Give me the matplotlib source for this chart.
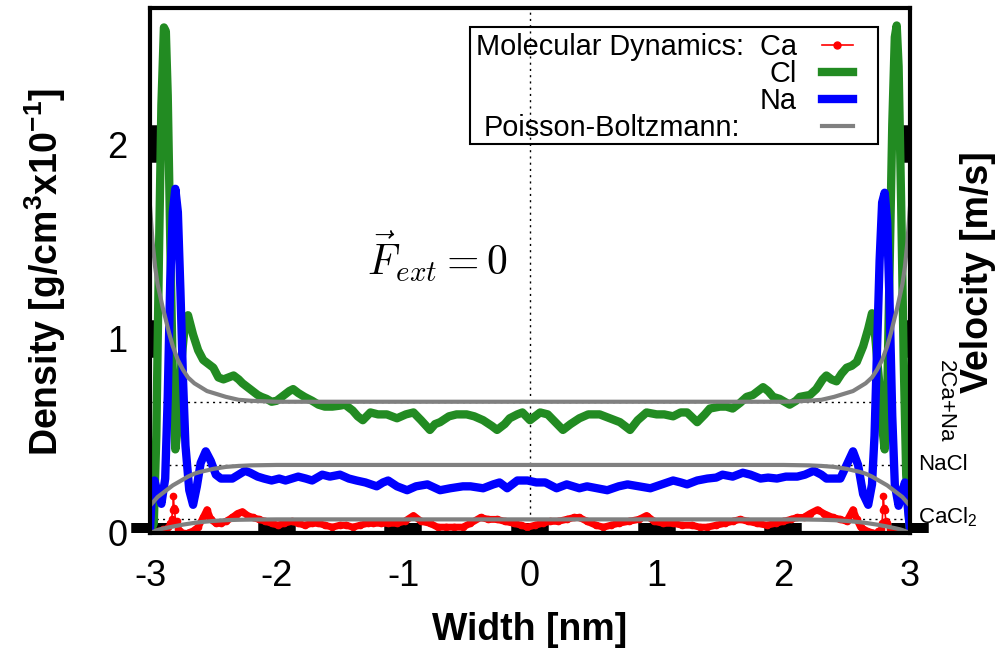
import numpy as np
import matplotlib
matplotlib.use("Agg")
import matplotlib.pyplot as plt
from matplotlib.lines import Line2D
from matplotlib.patches import Rectangle
from matplotlib.transforms import blended_transform_factory

plt.rcParams['font.family'] = ['Liberation Sans', 'DejaVu Sans']
plt.rcParams['mathtext.fontset'] = 'custom'
plt.rcParams['mathtext.rm'] = 'Liberation Sans'
plt.rcParams['mathtext.bf'] = 'Liberation Sans:bold'
plt.rcParams['mathtext.it'] = 'Liberation Sans:italic'
plt.rcParams['axes.unicode_minus'] = False

# ---------------- data ----------------
cl_x = [-3.00, -2.97, -2.95, -2.93, -2.91, -2.89, -2.875, -2.86, -2.84, -2.82, -2.80, -2.78, -2.75, -2.72, -2.70,
        -2.66, -2.62, -2.58, -2.54, -2.50, -2.46, -2.42, -2.38, -2.34, -2.30, -2.27, -2.23, -2.19, -2.15, -2.12,
        -2.08, -2.04, -2.00, -1.96, -1.90, -1.87, -1.83, -1.78, -1.72, -1.67, -1.62, -1.56, -1.50, -1.46, -1.40,
        -1.36, -1.32, -1.26, -1.20, -1.13, -1.05, -0.98, -0.92, -0.86, -0.79, -0.75, -0.71, -0.64, -0.58, -0.50,
        -0.44, -0.37, -0.30, -0.26, -0.20, -0.16, -0.10, -0.06, 0.00, 0.04, 0.08, 0.14, 0.20, 0.26, 0.32,
        0.39, 0.46, 0.55, 0.63, 0.71, 0.79, 0.85, 0.92, 1.00, 1.06, 1.13, 1.19, 1.24, 1.32, 1.38,
        1.42, 1.50, 1.55, 1.60, 1.66, 1.71, 1.76, 1.84, 1.88, 1.92, 1.97, 2.05, 2.10, 2.13, 2.21,
        2.26, 2.31, 2.34, 2.38, 2.42, 2.46, 2.50, 2.54, 2.58, 2.63, 2.67, 2.70, 2.72, 2.74, 2.76,
        2.78, 2.80, 2.82, 2.84, 2.86, 2.88, 2.895, 2.91, 2.93, 2.95, 2.97, 3.00]
cl_y = [0.00, 0.05, 0.50, 1.40, 2.20, 2.60, 2.58, 2.25, 1.50, 0.80, 0.43, 0.55, 0.90, 1.10, 1.12,
        1.02, 0.94, 0.89, 0.87, 0.85, 0.80, 0.79, 0.80, 0.81, 0.79, 0.77, 0.75, 0.73, 0.71, 0.70,
        0.69, 0.675, 0.68, 0.70, 0.73, 0.74, 0.72, 0.70, 0.68, 0.66, 0.65, 0.65, 0.655, 0.66, 0.63,
        0.60, 0.58, 0.62, 0.61, 0.61, 0.59, 0.61, 0.62, 0.58, 0.53, 0.56, 0.57, 0.60, 0.61, 0.61,
        0.60, 0.58, 0.55, 0.53, 0.56, 0.59, 0.61, 0.62, 0.58, 0.60, 0.62, 0.61, 0.57, 0.53, 0.56,
        0.59, 0.61, 0.61, 0.59, 0.57, 0.53, 0.58, 0.62, 0.61, 0.61, 0.60, 0.62, 0.62, 0.57, 0.61,
        0.64, 0.65, 0.65, 0.64, 0.67, 0.70, 0.71, 0.75, 0.73, 0.70, 0.69, 0.66, 0.68, 0.70, 0.71,
        0.74, 0.79, 0.81, 0.79, 0.78, 0.82, 0.85, 0.86, 0.88, 0.96, 1.05, 1.13, 1.05, 0.90, 0.75,
        0.55, 0.43, 0.70, 1.40, 2.10, 2.55, 2.61, 2.40, 1.70, 0.90, 0.30, 0.00]

na_x = [-3.00, -2.985, -2.965, -2.94, -2.91, -2.88, -2.86, -2.84, -2.82, -2.80, -2.78, -2.76, -2.74, -2.72, -2.69,
        -2.66, -2.63, -2.60, -2.56, -2.52, -2.48, -2.44, -2.39, -2.35, -2.30, -2.25, -2.21, -2.15, -2.10, -2.04,
        -1.98, -1.93, -1.88, -1.83, -1.77, -1.72, -1.64, -1.58, -1.50, -1.43, -1.37, -1.30, -1.21, -1.16, -1.12,
        -1.05, -0.97, -0.90, -0.81, -0.71, -0.63, -0.53, -0.47, -0.37, -0.29, -0.24, -0.18, -0.10, -0.02, 0.05,
        0.12, 0.21, 0.29, 0.39, 0.45, 0.53, 0.61, 0.70, 0.77, 0.86, 0.95, 1.04, 1.13, 1.19, 1.24,
        1.32, 1.40, 1.47, 1.52, 1.60, 1.68, 1.74, 1.82, 1.88, 1.95, 2.02, 2.11, 2.17, 2.24, 2.30,
        2.34, 2.40, 2.45, 2.50, 2.55, 2.59, 2.63, 2.67, 2.70, 2.72, 2.74, 2.76, 2.78, 2.80, 2.82,
        2.84, 2.86, 2.88, 2.91, 2.935, 2.96, 2.98, 3.00]
na_y = [0.02, 0.20, 0.27, 0.21, 0.15, 0.28, 0.70, 1.30, 1.65, 1.77, 1.65, 1.25, 0.80, 0.45, 0.22,
        0.145, 0.24, 0.36, 0.42, 0.37, 0.30, 0.28, 0.28, 0.28, 0.30, 0.32, 0.31, 0.29, 0.28, 0.27,
        0.28, 0.27, 0.28, 0.29, 0.28, 0.27, 0.30, 0.29, 0.30, 0.28, 0.27, 0.26, 0.24, 0.26, 0.27,
        0.24, 0.22, 0.24, 0.25, 0.22, 0.23, 0.24, 0.24, 0.23, 0.25, 0.26, 0.23, 0.27, 0.27, 0.26,
        0.26, 0.23, 0.25, 0.23, 0.24, 0.23, 0.22, 0.24, 0.25, 0.24, 0.23, 0.25, 0.27, 0.26, 0.25,
        0.27, 0.28, 0.285, 0.30, 0.29, 0.31, 0.30, 0.28, 0.285, 0.28, 0.29, 0.29, 0.30, 0.32, 0.30,
        0.28, 0.28, 0.28, 0.35, 0.42, 0.35, 0.20, 0.145, 0.25, 0.50, 0.95, 1.40, 1.70, 1.75, 1.60,
        1.15, 0.60, 0.25, 0.14, 0.20, 0.26, 0.15, 0.02]

ca_x = [-3.00, -2.98, -2.96, -2.94, -2.92, -2.90, -2.88, -2.86, -2.84, -2.83, -2.82, -2.815, -2.81, -2.805, -2.80,
        -2.79, -2.78, -2.76, -2.73, -2.70, -2.66, -2.62, -2.58, -2.55, -2.52, -2.48, -2.44, -2.40, -2.35, -2.31,
        -2.27, -2.23, -2.19, -2.14, -2.09, -2.04, -1.99, -1.94, -1.88, -1.83, -1.78, -1.72, -1.67, -1.62, -1.56,
        -1.50, -1.45, -1.40, -1.34, -1.28, -1.24, -1.18, -1.12, -1.05, -0.99, -0.92, -0.86, -0.79, -0.73, -0.66,
        -0.60, -0.53, -0.47, -0.39, -0.33, -0.26, -0.20, -0.13, -0.07, -0.02, 0.04, 0.10, 0.16, 0.22, 0.29,
        0.35, 0.39, 0.45, 0.52, 0.58, 0.64, 0.70, 0.78, 0.86, 0.92, 0.98, 1.05, 1.13, 1.20, 1.28,
        1.34, 1.40, 1.47, 1.54, 1.60, 1.66, 1.72, 1.79, 1.87, 1.94, 2.00, 2.06, 2.11, 2.16, 2.21,
        2.27, 2.32, 2.39, 2.45, 2.50, 2.55, 2.58, 2.61, 2.66, 2.71, 2.75, 2.77, 2.78, 2.785, 2.79,
        2.795, 2.80, 2.81, 2.82, 2.84, 2.88, 2.92, 2.96, 3.00]
ca_y = [0.00, 0.00, 0.00, 0.01, 0.01, 0.02, 0.02, 0.03, 0.05, 0.07, 0.12, 0.19, 0.13, 0.12, 0.06,
        0.06, 0.02, 0.01, 0.00, 0.00, 0.01, 0.03, 0.08, 0.12, 0.07, 0.05, 0.05, 0.06, 0.08, 0.10,
        0.11, 0.09, 0.08, 0.07, 0.06, 0.05, 0.04, 0.05, 0.06, 0.05, 0.04, 0.05, 0.05, 0.04, 0.03,
        0.04, 0.04, 0.03, 0.04, 0.05, 0.05, 0.05, 0.05, 0.05, 0.06, 0.09, 0.06, 0.05, 0.03, 0.03,
        0.03, 0.03, 0.05, 0.08, 0.07, 0.07, 0.06, 0.05, 0.04, 0.03, 0.04, 0.05, 0.06, 0.06, 0.07,
        0.08, 0.08, 0.06, 0.04, 0.03, 0.04, 0.05, 0.06, 0.07, 0.09, 0.06, 0.05, 0.05, 0.04, 0.04,
        0.03, 0.03, 0.04, 0.05, 0.06, 0.07, 0.06, 0.05, 0.04, 0.05, 0.06, 0.07, 0.08, 0.08, 0.10,
        0.12, 0.10, 0.08, 0.07, 0.06, 0.12, 0.07, 0.03, 0.01, 0.00, 0.01, 0.02, 0.05, 0.12, 0.19,
        0.13, 0.12, 0.06, 0.05, 0.02, 0.01, 0.00, 0.00, 0.00]

pb_x = [-3.00, -2.98, -2.96, -2.94, -2.92, -2.90, -2.88, -2.85, -2.82, -2.78, -2.74, -2.70, -2.65, -2.60, -2.55,
        -2.50, -2.40, -2.30, -2.20, -2.00, -1.50, -1.00, 0.00, 1.00, 1.50, 2.00, 2.20, 2.30, 2.40, 2.50,
        2.55, 2.60, 2.65, 2.70, 2.74, 2.78, 2.82, 2.85, 2.88, 2.90, 2.92, 2.94, 2.96, 2.98, 3.00]
pb_cl = [1.68, 1.50, 1.37, 1.28, 1.22, 1.16, 1.11, 1.03, 0.96, 0.89, 0.84, 0.80, 0.77, 0.75, 0.73,
         0.72, 0.70, 0.685, 0.68, 0.675, 0.675, 0.675, 0.675, 0.675, 0.675, 0.675, 0.68, 0.685, 0.70, 0.72,
         0.73, 0.75, 0.77, 0.80, 0.84, 0.89, 0.96, 1.03, 1.11, 1.16, 1.22, 1.28, 1.37, 1.50, 1.68]
pb_na = [0.14, 0.155, 0.17, 0.185, 0.195, 0.205, 0.215, 0.23, 0.245, 0.26, 0.275, 0.29, 0.305, 0.315, 0.322,
         0.33, 0.34, 0.345, 0.348, 0.35, 0.35, 0.35, 0.35, 0.35, 0.35, 0.35, 0.348, 0.345, 0.34, 0.33,
         0.322, 0.315, 0.305, 0.29, 0.275, 0.26, 0.245, 0.23, 0.215, 0.205, 0.195, 0.185, 0.17, 0.155, 0.14]
pb_ca = [0.00, 0.005, 0.010, 0.015, 0.019, 0.022, 0.025, 0.029, 0.033, 0.038, 0.043, 0.047, 0.052, 0.056, 0.059,
         0.062, 0.066, 0.068, 0.069, 0.07, 0.07, 0.07, 0.07, 0.07, 0.07, 0.07, 0.069, 0.068, 0.066, 0.062,
         0.059, 0.056, 0.052, 0.047, 0.043, 0.038, 0.033, 0.029, 0.025, 0.022, 0.019, 0.015, 0.010, 0.005, 0.00]

ref_levels = [0.07, 0.35, 0.675]
ref_labels = ['CaCl$_2$', 'NaCl', '2Ca+Na']
x_ticks = [-3, -2, -1, 0, 1, 2, 3]
y_ticks = [0, 1, 2]

# ---------------- figure ----------------
W, H = 1000, 653
fig = plt.figure(figsize=(W / 100, H / 100), dpi=100)
ax = fig.add_axes([150 / W, 1 - 533 / H, 760 / W, 525 / H])
ax.set_xlim(-3, 3)
ax.set_ylim(0, 2.7)

# reference dotted lines
ax.axvline(0, color='black', lw=1.0, ls=(0, (1.5, 3)), zorder=1)
for lv in ref_levels:
    ax.axhline(lv, color='black', lw=1.0, ls=(0, (1.5, 3)), zorder=1)

ca_x_a = np.array(ca_x)
ca_y_a = np.array(ca_y)
mid = np.abs(ca_x_a) < 2.72
ax.plot(ca_x_a[mid], ca_y_a[mid], color='red', lw=5, solid_capstyle='round', zorder=2)
ax.plot(ca_x_a, ca_y_a, color='red', lw=1.2, marker='o', ms=4.5, zorder=2)
ax.plot(cl_x, cl_y, color='#228b22', lw=6, solid_capstyle='round', solid_joinstyle='round', zorder=3)
ax.plot(na_x, na_y, color='#0000ff', lw=6, solid_capstyle='round', solid_joinstyle='round', zorder=4)
for yy in (pb_cl, pb_na, pb_ca):
    ax.plot(pb_x, yy, color='#808080', lw=3, zorder=5)

# ticks
ax.set_xticks(x_ticks)
ax.set_xticklabels([str(v) for v in x_ticks])
ax.set_yticks(y_ticks)
ax.set_yticklabels([str(v) for v in y_ticks])
ax.tick_params(axis='x', direction='in', length=7, width=27, pad=19, labelsize=26, top=False)
ax.tick_params(axis='y', direction='in', length=6, width=27, pad=16, labelsize=26, right=True)
yt = ax.yaxis.get_major_ticks()[0]
yt.tick1line.set_visible(False)
yt.tick2line.set_visible(False)
for sp in ax.spines.values():
    sp.set_linewidth(3)
    sp.set_zorder(6)

# right-hand reference labels
tr = blended_transform_factory(ax.transAxes, ax.transData)
ax.text(1.011, ref_levels[0] + 0.01, ref_labels[0], transform=tr, fontsize=16, ha='left', va='center')
ax.text(1.011, ref_levels[1], ref_labels[1], transform=tr, fontsize=16, ha='left', va='center')
ax.text(1.047, ref_levels[2], ref_labels[2], transform=tr, fontsize=16, ha='center', va='center',
        rotation=-90)

# axis labels
fig.text(530 / W, 1 - 630 / H, 'Width [nm]', fontsize=27, fontweight='bold', ha='center', va='center')
fig.text(45 / W, 1 - 272 / H, r'Density [g/cm$^{\mathbf{3}}$x10$^{\mathbf{-1}}$]', fontsize=27,
         fontweight='bold', ha='center', va='center', rotation=90)
fig.text(978 / W, 1 - 272 / H, 'Velocity [m/s]', fontsize=27, fontweight='bold', ha='center', va='center',
         rotation=90)

ax.text(-0.735, 1.42, r'$\vec{F}_{ext} = 0$', math_fontfamily='cm', fontsize=30, ha='center', va='center')

# legend (manual, gnuplot style)
def fx(px):
    return px / W

def fy(py):
    return 1 - py / H

fig.patches.append(Rectangle((fx(470), fy(144)), 408 / W, 117 / H, transform=fig.transFigure,
                             fill=False, lw=1.5, edgecolor='black', zorder=10))
rows = [(55, 797, 'Molecular Dynamics:  Ca', dict(color='red', lw=1.2, marker='o', ms=5, markevery=[1])),
        (82, 797, 'Cl', dict(color='#228b22', lw=6)),
        (109, 797, 'Na', dict(color='#0000ff', lw=6)),
        (136, 740, 'Poisson-Boltzmann:', dict(color='#808080', lw=3))]
for base, xr, label, style in rows:
    fig.text(fx(xr), fy(base), label, fontsize=20.8, ha='right', va='baseline')
    ly = base - 10
    fig.lines.append(Line2D([fx(822), fx(837), fx(853)], [fy(ly)] * 3, transform=fig.transFigure, **style))

fig.savefig('out.png', dpi=100)
